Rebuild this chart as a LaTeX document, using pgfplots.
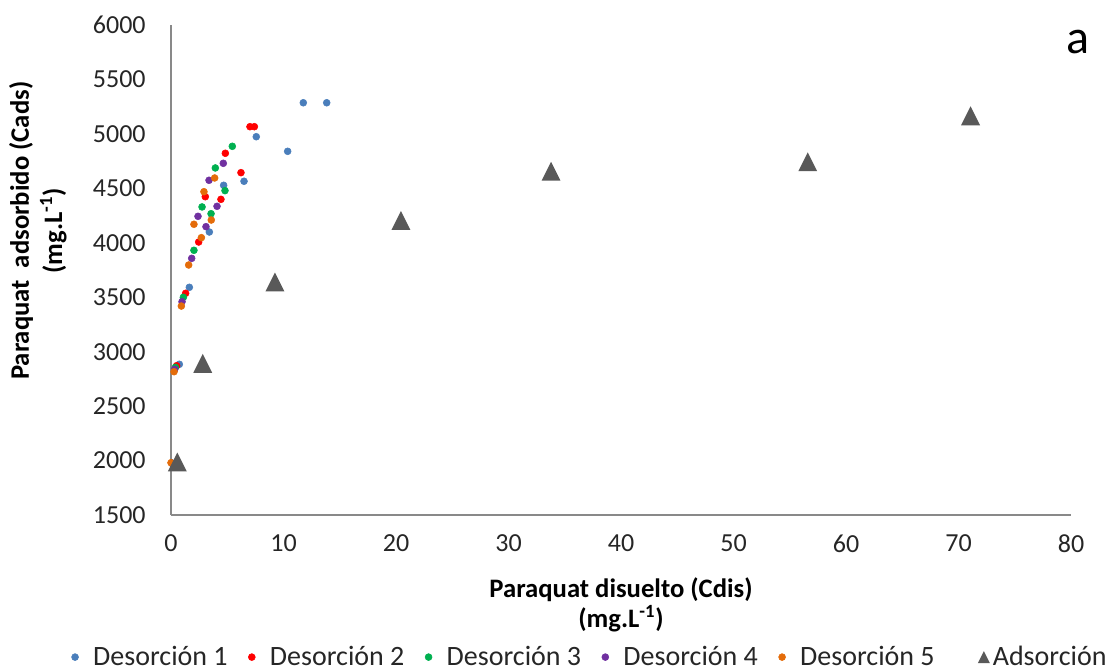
\documentclass[border=0pt]{standalone}
\usepackage{pgfplots}
\pgfplotsset{compat=1.18}
\usepackage{fontspec}
\setmainfont{Carlito}
\definecolor{cblue}{HTML}{4A7EBB}
\definecolor{cred}{HTML}{FF0000}
\definecolor{cgreen}{HTML}{00B050}
\definecolor{cpurple}{HTML}{7030A0}
\definecolor{corange}{HTML}{E46C0A}
\definecolor{cgray}{HTML}{595959}
\definecolor{axgray}{HTML}{898989}
\pgfdeclareplotmark{xtri}{%
  \pgfpathmoveto{\pgfqpoint{0pt}{\pgfplotmarksize}}%
  \pgfpathlineto{\pgfqpoint{\pgfplotmarksize}{-\pgfplotmarksize}}%
  \pgfpathlineto{\pgfqpoint{-\pgfplotmarksize}{-\pgfplotmarksize}}%
  \pgfpathclose\pgfusepathqfill}
\pgfplotsset{
  dotlegend/.style={legend image code/.code={\draw[##1] plot coordinates {(0.25cm,0cm)};}},
  trilegend/.style={legend image code/.code={\path[draw=none, fill=none] (0cm,-0.1cm) rectangle (0.6cm,0.1cm);
    \draw[##1, overlay, mark size=4.5pt] plot coordinates {(0.75cm,0cm)};}},
}
\begin{document}
\begin{tikzpicture}
\begin{axis}[name=ax,
  scale only axis, width=675pt, height=367.5pt,
  xmin=0, xmax=80, ymin=1500, ymax=6000,
  xtick={0,10,...,80}, ytick={1500,2000,...,6000},
  axis x line*=bottom, axis y line*=left,
  axis line style={axgray, line width=1pt},
  major tick length=0pt,
  /pgf/number format/assume math mode=true,
  /pgf/number format/1000 sep={},
  ticklabel style={font=\fontsize{19.5}{23}\selectfont, text=black!85},
  xticklabel style={yshift=-11.5pt},
  yticklabel style={xshift=-15.5pt},
  xlabel={Paraquat disuelto (Cdis)\\(mg.L\textsuperscript{-1})},
  xlabel style={at={(0.5,-0.184)}, anchor=center, align=center, font=\bfseries\fontsize{20}{22.5}\selectfont},
  ylabel={Paraquat\ \ adsorbido (Cads)\\(mg.L\textsuperscript{-1})},
  ylabel style={at={(-0.148,0.58)}, anchor=center, align=center, font=\bfseries\fontsize{20}{25}\selectfont},
  legend columns=6,
  legend style={draw=none, fill=none, at={(0.466,-0.29)}, anchor=center,
    font=\fontsize{21}{25}\selectfont, text=black!85,
    /tikz/every even column/.append style={column sep=13.5pt},
    /tikz/every odd column/.append style={column sep=9pt},
    inner sep=0pt},
  dotlegend,
  clip=false,
]
\addplot[only marks, mark=*, mark size=2.6pt, color=cblue] coordinates {
(0.1,1975) (0.74,2884) (1.63,3591) (3.41,4099) (4.68,4528) (6.49,4565) (10.37,4840) (7.58,4974) (11.76,5286) (13.84,5286)};
\addlegendentry{Desorción 1}
\addplot[only marks, mark=*, mark size=2.6pt, color=cred] coordinates {
(0.1,1975) (0.50,2871) (1.30,3536) (2.46,4007) (4.44,4399) (3.05,4423) (6.22,4644) (4.83,4822) (7.02,5066) (7.41,5066)};
\addlegendentry{Desorción 2}
\addplot[only marks, mark=*, mark size=2.6pt, color=cgreen] coordinates {
(0.1,1975) (0.39,2856) (1.10,3499) (2.04,3931) (3.56,4267) (2.76,4329) (4.80,4479) (3.94,4687) (5.45,4886)};
\addlegendentry{Desorción 3}
\addplot[only marks, mark=*, mark size=2.6pt, color=cpurple] coordinates {
(0.1,1975) (0.33,2838) (0.98,3459) (1.84,3857) (3.11,4148) (2.40,4243) (4.09,4335) (3.38,4574) (4.65,4730)};
\addlegendentry{Desorción 4}
\addplot[only marks, mark=*, mark size=2.6pt, color=corange] coordinates {
(0.0,1980) (0.27,2816) (0.92,3419) (1.57,3796) (2.70,4047) (2.04,4170) (3.58,4209) (2.93,4469) (3.88,4595)};
\addlegendentry{Desorción 5}
\addplot[only marks, mark=xtri, mark size=7.1pt, color=cgray, trilegend] coordinates {
(0.56,1987) (2.82,2893) (9.24,3640) (20.44,4205) (33.78,4657) (56.60,4744) (71.07,5166)};
\addlegendentry{Adsorción}
\node[font=\fontsize{36}{40}\selectfont, anchor=center] at (rel axis cs:1.008,0.965) {a};
\end{axis}
\path[use as bounding box] ([xshift=-128.25pt,yshift=-117pt]ax.south west) rectangle ([xshift=30.75pt,yshift=18.75pt]ax.north east);
\end{tikzpicture}
\end{document}
